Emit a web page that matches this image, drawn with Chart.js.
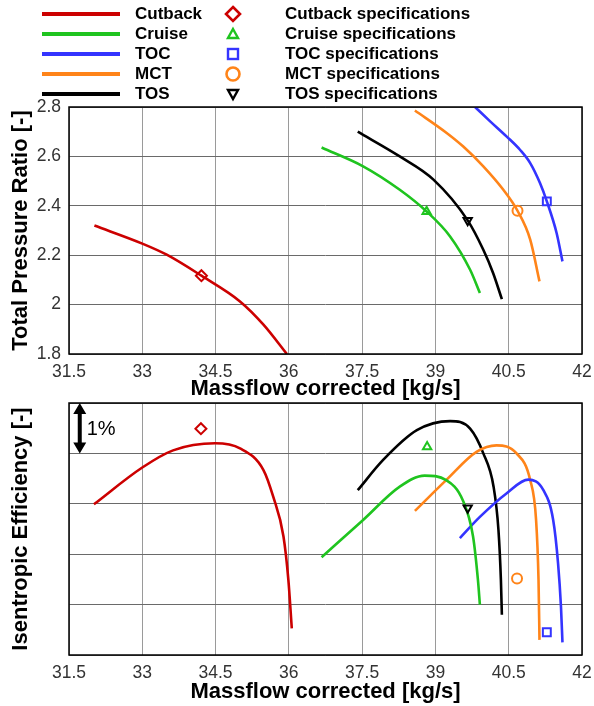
<!DOCTYPE html>
<html>
<head>
<meta charset="utf-8">
<script src="https://cdn.jsdelivr.net/npm/chart.js@4/dist/chart.umd.min.js"></script>
<style>
  body { margin: 0; background: #fff; width: 594px; height: 706px; position: relative; overflow: hidden;
         font-family: "Liberation Sans", Arial, sans-serif; }
  .box { position: absolute; left: 0; width: 594px; }
  .row { position: absolute; left: 0; width: 594px; height: 20px; font-weight: bold; font-size: 17px; line-height: 20px; color: #000; }
  .row .ln { position: absolute; left: 42px; top: 8px; width: 78px; height: 4px; }
  .row .lab { position: absolute; left: 135px; top: 0; }
  .row svg { position: absolute; left: 224px; top: 1px; }
  .row .spec { position: absolute; left: 285px; top: 0; }
</style>
</head>
<body>
<div id="legend" class="box" style="top:0;height:104px;z-index:2"></div>
<div class="box" style="top:90px;height:310px"><canvas id="prChart" width="594" height="310"></canvas></div>
<div class="box" style="top:395px;height:311px"><canvas id="effChart" width="594" height="311"></canvas></div>
<script>
// series, in legend order
const names = ["Cutback", "Cruise", "TOC", "MCT", "TOS"];
const colors = ["#cc0000", "#1fc41f", "#3434ff", "#ff8419", "#000000"];

const xTicks = [31.5, 33, 34.5, 36, 37.5, 39, 40.5, 42];
const prTicks = [1.8, 2, 2.2, 2.4, 2.6, 2.8];
const effTicks = [0, 1, 2, 3, 4, 5]; // 1 % per grid step, no labels

// total pressure ratio lines
const cutbackMass = [32.02, 33.0, 33.5, 34.21, 35.0, 35.48, 35.96];
const cutbackPR = [2.32, 2.247, 2.202, 2.117, 2.013, 1.919, 1.80];
const cruiseMass = [36.67, 37.52, 38.27, 38.82, 39.30, 39.71, 39.91];
const cruisePR = [2.636, 2.56, 2.465, 2.377, 2.276, 2.141, 2.047];
const tocMass = [39.81, 40.12, 40.46, 40.73, 40.94, 41.14, 41.28, 41.48, 41.60];
const tocPR = [2.8, 2.742, 2.68, 2.627, 2.573, 2.492, 2.418, 2.29, 2.175];
const mctMass = [38.58, 39.23, 39.57, 39.98, 40.39, 40.68, 40.94, 41.13];
const mctPR = [2.786, 2.695, 2.64, 2.56, 2.465, 2.38, 2.263, 2.094];
const tosMass = [37.41, 38.27, 38.96, 39.66, 39.98, 40.18, 40.36];
const tosPR = [2.70, 2.60, 2.506, 2.341, 2.222, 2.128, 2.022];

// isentropic efficiency lines (relative, %)
const cutbackEffMass = [32.01, 33.0, 33.63, 34.49, 35.0, 35.48, 35.68, 35.89, 35.99, 36.06];
const cutbackEff = [2.99, 3.72, 4.06, 4.20, 4.10, 3.67, 3.14, 2.35, 1.49, 0.53];
const cruiseEffMass = [36.67, 37.52, 38.27, 38.78, 39.22, 39.56, 39.77, 39.87, 39.91];
const cruiseEff = [1.94, 2.68, 3.34, 3.56, 3.47, 3.07, 2.35, 1.49, 1.0];
const tocEffMass = [39.5, 39.91, 40.46, 40.90, 41.21, 41.41, 41.51, 41.57, 41.60];
const tocEff = [2.32, 2.74, 3.21, 3.48, 3.27, 2.68, 1.82, 0.95, 0.25];
const mctEffMass = [38.58, 39.22, 39.84, 40.25, 40.66, 40.94, 41.06, 41.11, 41.13];
const mctEff = [2.86, 3.47, 4.03, 4.16, 4.00, 3.47, 2.68, 1.49, 0.30];
const tosEffMass = [37.41, 37.93, 38.62, 39.30, 39.71, 39.98, 40.19, 40.29, 40.34, 40.36];
const tosEff = [3.27, 3.87, 4.46, 4.64, 4.49, 4.00, 3.34, 2.48, 1.49, 0.80];

// specification points (same order as names)
const specPRMass = [34.21, 38.82, 41.28, 40.68, 39.66];
const specPR = [2.117, 2.377, 2.418, 2.38, 2.341];
const specEffMass = [34.2, 38.83, 41.28, 40.67, 39.66];
const specEff = [4.49, 4.13, 0.45, 1.52, 2.92];

const specStyles = ["rectRot", "triangle", "rect", "circle", "triangle"];
const specRotation = [0, 0, 0, 0, 180];
const specRadius = [5.5, 4.8, 5.6, 5, 4.8];

// "1%" scale bar in the efficiency plot
const barMass = 31.72;
const barFrom = 5, barTo = 4;

Chart.defaults.font.family = '"Liberation Sans", Arial, sans-serif';
Chart.defaults.color = "#333";

function pairs(xs, ys) { return xs.map((x, i) => ({x: x, y: ys[i]})); }

const frame = {
    id: "frame",
    afterDraw(chart) {
        const a = chart.chartArea, ctx = chart.ctx;
        ctx.save();
        ctx.strokeStyle = "#000";
        ctx.lineWidth = 1.5;
        ctx.strokeRect(a.left, a.top, a.right - a.left, a.bottom - a.top);
        ctx.restore();
    }
};

const onePercent = {
    id: "onePercent",
    afterDraw(chart) {
        const ctx = chart.ctx;
        const x = chart.scales.x.getPixelForValue(barMass);
        const y1 = chart.scales.y.getPixelForValue(barFrom);
        const y2 = chart.scales.y.getPixelForValue(barTo);
        ctx.save();
        ctx.fillStyle = "#000";
        ctx.fillRect(x - 2, y1 + 8, 4, y2 - y1 - 16);
        ctx.beginPath();
        ctx.moveTo(x, y1); ctx.lineTo(x - 6.5, y1 + 11); ctx.lineTo(x + 6.5, y1 + 11); ctx.closePath();
        ctx.moveTo(x, y2); ctx.lineTo(x - 6.5, y2 - 11); ctx.lineTo(x + 6.5, y2 - 11); ctx.closePath();
        ctx.fill();
        ctx.font = "20px 'Liberation Sans', Arial, sans-serif";
        ctx.textBaseline = "middle";
        ctx.fillText("1%", x + 7, (y1 + y2) / 2 + 1);
        ctx.restore();
    }
};

function makeChart(id, lines, specX, specY, yMin, yMax, yTicks, yTitle, showYLabels, padTop, xHeight, titleBottom, extra) {
    const datasets = [];
    lines.forEach((l, i) => {
        datasets.push({
            label: names[i], data: pairs(l[0], l[1]), showLine: true,
            borderColor: colors[i], borderWidth: 2.6, pointRadius: 0,
            cubicInterpolationMode: "monotone", order: 2
        });
    });
    names.forEach((n, i) => {
        datasets.push({
            label: n + " specifications", data: [{x: specX[i], y: specY[i]}], showLine: false,
            pointStyle: specStyles[i], pointRotation: specRotation[i], pointRadius: specRadius[i],
            borderColor: colors[i], backgroundColor: "rgba(0,0,0,0)", pointBorderWidth: 2, order: 1
        });
    });
    return new Chart(document.getElementById(id).getContext("2d"), {
        type: "scatter",
        data: {datasets: datasets},
        options: {
            responsive: false,
            animation: false,
            layout: {padding: {top: padTop, right: 12, left: 0, bottom: 0}},
            plugins: {legend: {display: false}, tooltip: {enabled: false}},
            scales: {
                x: {
                    type: "linear", min: 31.5, max: 42,
                    afterBuildTicks: s => { s.ticks = xTicks.map(v => ({value: v})); },
                    afterFit: s => { s.height = xHeight; s.paddingLeft = 0; s.paddingRight = 0; },
                    grid: {color: "#9a9a9a", lineWidth: 1, drawTicks: false},
                    border: {display: false},
                    ticks: {padding: 8, color: "#333", font: {size: 17.5}, callback: v => String(v)},
                    title: {display: true, text: "Massflow corrected [kg/s]", color: "#000",
                            font: {size: 22, weight: "bold", lineHeight: 1}, padding: {top: 0, bottom: titleBottom}}
                },
                y: {
                    type: "linear", min: yMin, max: yMax,
                    afterBuildTicks: s => { s.ticks = yTicks.map(v => ({value: v})); },
                    afterFit: s => { s.width = 69; s.paddingTop = 0; s.paddingBottom = 0; },
                    grid: {color: "#6a6a6a", lineWidth: 1, drawTicks: false},
                    border: {display: false},
                    ticks: {display: showYLabels, padding: 8, color: "#333", font: {size: 17.5}, callback: v => String(v)},
                    title: {display: true, text: yTitle, color: "#000",
                            font: {size: 22, weight: "bold", lineHeight: 1}, padding: {top: 10, bottom: 0}}
                }
            }
        },
        plugins: [frame].concat(extra)
    });
}

makeChart("prChart",
    [[cutbackMass, cutbackPR], [cruiseMass, cruisePR], [tocMass, tocPR], [mctMass, mctPR], [tosMass, tosPR]],
    specPRMass, specPR, 1.8, 2.8, prTicks, "Total Pressure Ratio [-]", true, 17, 46, 0, []);

makeChart("effChart",
    [[cutbackEffMass, cutbackEff], [cruiseEffMass, cruiseEff], [tocEffMass, tocEff], [mctEffMass, mctEff], [tosEffMass, tosEff]],
    specEffMass, specEff, 0, 5, effTicks, "Isentropic Efficiency [-]", false, 8, 51, 3, [onePercent]);

// legend
const legendMarks = [
    c => `<polygon points="9,2 16,9 9,16 2,9" fill="none" stroke="${c}" stroke-width="2.6"/>`,
    c => `<polygon points="9,4 14,13 4,13" fill="none" stroke="${c}" stroke-width="2.4"/>`,
    c => `<rect x="4" y="4" width="10" height="10" fill="none" stroke="${c}" stroke-width="2.4"/>`,
    c => `<circle cx="9" cy="9" r="6.5" fill="none" stroke="${c}" stroke-width="2.6"/>`,
    c => `<polygon points="4,5 14,5 9,14" fill="none" stroke="${c}" stroke-width="2.4"/>`
];
const legend = document.getElementById("legend");
names.forEach((n, i) => {
    const row = document.createElement("div");
    row.className = "row";
    row.style.top = (4 + i * 20) + "px";
    row.innerHTML = `<span class="ln" style="background:${colors[i]}"></span>` +
        `<span class="lab">${n}</span>` +
        `<svg width="18" height="18" viewBox="0 0 18 18">${legendMarks[i](colors[i])}</svg>` +
        `<span class="spec">${n} specifications</span>`;
    legend.appendChild(row);
});
</script>
</body>
</html>
